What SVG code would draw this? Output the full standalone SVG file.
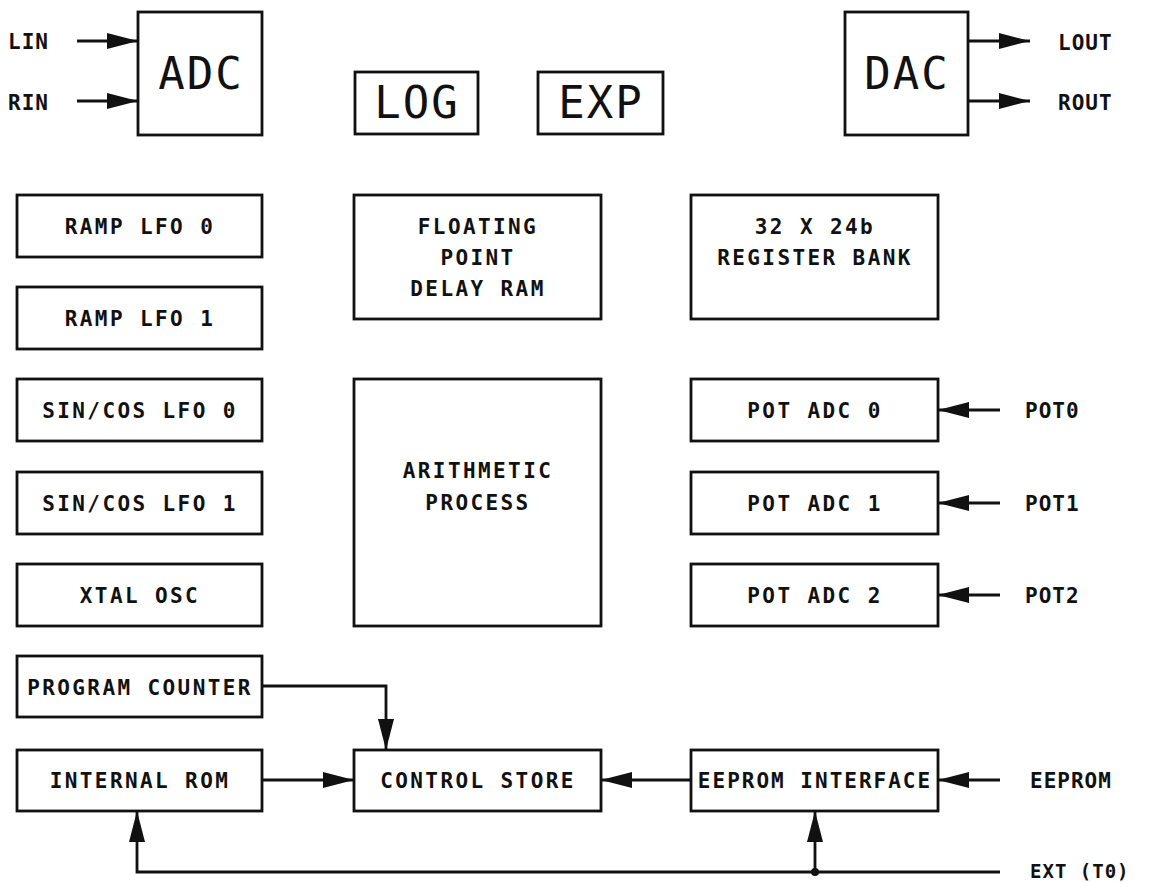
<svg xmlns="http://www.w3.org/2000/svg" width="1149" height="882" viewBox="0 0 1149 882">
<style>
.box{fill:#fff;stroke:#111;stroke-width:2.8}
.t{font-family:"DejaVu Sans Mono","Liberation Mono",monospace;font-weight:bold;font-size:21px;letter-spacing:2.4px;text-anchor:middle;fill:#111}
.big{font-family:"DejaVu Sans Mono","Liberation Mono",monospace;font-size:44px;letter-spacing:2px;text-anchor:middle;fill:#111}
.lbl{font-family:"DejaVu Sans Mono","Liberation Mono",monospace;font-weight:bold;font-size:21px;letter-spacing:1px;fill:#111}
.c{fill:none;stroke:#111;stroke-width:2.8}
</style>
<defs>
<marker id="ah" markerUnits="userSpaceOnUse" markerWidth="34" markerHeight="20" refX="31" refY="10" orient="auto">
<path d="M0,2 L31,10 L0,18 Z" fill="#111"/>
</marker>
</defs>
<rect width="1149" height="882" fill="#fff"/>

<g id="adc"><rect class="box" x="138" y="12" width="124" height="123"/><text class="big" x="201" y="89">ADC</text></g>
<g id="dac"><rect class="box" x="845" y="12" width="123" height="123"/><text class="big" x="907" y="89">DAC</text></g>
<g id="log"><rect class="box" x="355" y="72" width="123" height="62"/><text class="big" x="417" y="118">LOG</text></g>
<g id="exp"><rect class="box" x="538" y="72" width="125" height="62"/><text class="big" x="601" y="118">EXP</text></g>

<g id="ramp0"><rect class="box" x="17" y="195" width="245" height="62"/><text class="t" x="140" y="234">RAMP LFO 0</text></g>
<g id="ramp1"><rect class="box" x="17" y="287" width="245" height="62"/><text class="t" x="140" y="326">RAMP LFO 1</text></g>
<g id="sin0"><rect class="box" x="17" y="379" width="245" height="62"/><text class="t" x="140" y="418">SIN/COS LFO 0</text></g>
<g id="sin1"><rect class="box" x="17" y="472" width="245" height="62"/><text class="t" x="140" y="511">SIN/COS LFO 1</text></g>
<g id="xtal"><rect class="box" x="17" y="564" width="245" height="62"/><text class="t" x="140" y="603">XTAL OSC</text></g>
<g id="pc"><rect class="box" x="17" y="656" width="245" height="61"/><text class="t" x="140" y="695">PROGRAM COUNTER</text></g>
<g id="rom"><rect class="box" x="17" y="750" width="245" height="61"/><text class="t" x="140" y="788">INTERNAL ROM</text></g>

<g id="delayram"><rect class="box" x="354" y="195" width="247" height="124"/><text class="t" x="478" y="234">FLOATING</text><text class="t" x="478" y="265">POINT</text><text class="t" x="478" y="296">DELAY RAM</text></g>
<g id="arith"><rect class="box" x="354" y="379" width="247" height="247"/><text class="t" x="478" y="478">ARITHMETIC</text><text class="t" x="478" y="510">PROCESS</text></g>
<g id="ctrl"><rect class="box" x="354" y="750" width="247" height="61"/><text class="t" x="478" y="788">CONTROL STORE</text></g>

<g id="regbank"><rect class="box" x="691" y="195" width="247" height="124"/><text class="t" x="815" y="234">32 X 24b</text><text class="t" x="815" y="265">REGISTER BANK</text></g>
<g id="pot0"><rect class="box" x="691" y="379" width="247" height="62"/><text class="t" x="815" y="418">POT ADC 0</text></g>
<g id="pot1"><rect class="box" x="691" y="472" width="247" height="62"/><text class="t" x="815" y="511">POT ADC 1</text></g>
<g id="pot2"><rect class="box" x="691" y="564" width="247" height="62"/><text class="t" x="815" y="603">POT ADC 2</text></g>
<g id="eeif"><rect class="box" x="691" y="750" width="247" height="61"/><text class="t" x="815" y="788" style="letter-spacing:2px">EEPROM INTERFACE</text></g>

<g id="labels">
<text class="lbl" x="8" y="49">LIN</text>
<text class="lbl" x="8" y="110">RIN</text>
<text class="lbl" x="1058" y="50">LOUT</text>
<text class="lbl" x="1058" y="110">ROUT</text>
<text class="lbl" x="1025" y="418">POT0</text>
<text class="lbl" x="1025" y="511">POT1</text>
<text class="lbl" x="1025" y="603">POT2</text>
<text class="lbl" x="1030" y="788">EEPROM</text>
<text class="lbl" x="1030" y="878" style="font-size:19px">EXT (T0)</text>
</g>

<g id="connectors">
<line class="c" x1="77" y1="41" x2="138" y2="41" marker-end="url(#ah)"/>
<line class="c" x1="77" y1="101" x2="138" y2="101" marker-end="url(#ah)"/>
<line class="c" x1="968" y1="41" x2="1030" y2="41" marker-end="url(#ah)"/>
<line class="c" x1="968" y1="101" x2="1030" y2="101" marker-end="url(#ah)"/>
<line class="c" x1="1000" y1="410" x2="938" y2="410" marker-end="url(#ah)"/>
<line class="c" x1="1000" y1="503" x2="938" y2="503" marker-end="url(#ah)"/>
<line class="c" x1="1000" y1="595" x2="938" y2="595" marker-end="url(#ah)"/>
<line class="c" x1="1000" y1="780" x2="938" y2="780" marker-end="url(#ah)"/>
<line class="c" x1="691" y1="780" x2="601" y2="780" marker-end="url(#ah)"/>
<line class="c" x1="262" y1="780" x2="354" y2="780" marker-end="url(#ah)"/>
<polyline class="c" points="262,686 386,686 386,750" marker-end="url(#ah)"/>
<polyline class="c" points="1000,872 137,872 137,811" marker-end="url(#ah)"/>
<line class="c" x1="815" y1="872" x2="815" y2="811" marker-end="url(#ah)"/>
<circle cx="815" cy="872" r="4" fill="#111"/>
</g>
</svg>
